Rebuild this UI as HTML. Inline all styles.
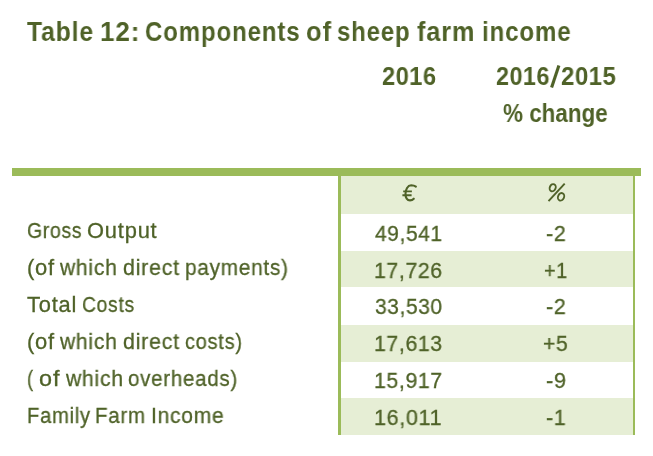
<!DOCTYPE html>
<html><head><meta charset="utf-8"><style>
html,body{margin:0;padding:0;background:#fff;width:653px;height:456px;overflow:hidden;}
.t{position:absolute;will-change:transform;font-family:"Liberation Sans",sans-serif;line-height:1;white-space:pre;color:#4F6228;transform-origin:0 0;}
.n{-webkit-text-stroke:0.3px #4F6228;}
.b{font-weight:bold;}
.i{font-style:italic;}
.r{position:absolute;}
</style></head><body>
<div class="r" style="left:12px;top:168px;width:629px;height:8px;background:#9BBB59"></div>
<div class="r" style="left:341px;top:176px;width:292px;height:38px;background:#E6EED5"></div>
<div class="r" style="left:341px;top:251px;width:292px;height:36px;background:#E6EED5"></div>
<div class="r" style="left:341px;top:325px;width:292px;height:37px;background:#E6EED5"></div>
<div class="r" style="left:341px;top:398px;width:292px;height:37px;background:#E6EED5"></div>
<div class="r" style="left:338px;top:176px;width:3px;height:259px;background:#9BBB59"></div>
<div class="r" style="left:633px;top:176px;width:2px;height:259px;background:#9BBB59"></div>
<div class="t b" style="left:27.20px;top:19.00px;font-size:27.00px;letter-spacing:1.0px;transform:scaleX(0.9111)">Table</div>
<div class="t b" style="left:100.48px;top:19.00px;font-size:27.00px;letter-spacing:1.0px;transform:scaleX(0.9611)">12:</div>
<div class="t b" style="left:145.01px;top:19.00px;font-size:27.00px;letter-spacing:1.0px;transform:scaleX(0.8884)">Components</div>
<div class="t b" style="left:306.05px;top:19.00px;font-size:27.00px;letter-spacing:1.0px;transform:scaleX(0.9462)">of</div>
<div class="t b" style="left:337.42px;top:19.00px;font-size:27.00px;letter-spacing:1.0px;transform:scaleX(0.8850)">sheep</div>
<div class="t b" style="left:417.00px;top:19.00px;font-size:27.00px;letter-spacing:1.0px;transform:scaleX(0.9333)">farm</div>
<div class="t b" style="left:481.52px;top:19.00px;font-size:27.00px;letter-spacing:1.0px;transform:scaleX(0.8907)">income</div>
<div class="t b" style="left:382.05px;top:64.00px;font-size:25.00px;letter-spacing:0.5px;transform:scaleX(0.9455)">2016</div>
<div class="t b" style="left:496.07px;top:64.00px;font-size:25.00px;letter-spacing:0.5px;transform:scaleX(0.9345)">2016</div>
<div class="t b" style="left:560.74px;top:64.00px;font-size:25.00px;letter-spacing:0.5px;transform:scaleX(0.9600)">2015</div>
<div class="t b" style="left:503.40px;top:101.00px;font-size:25.00px;transform:scaleX(0.8974)">% change</div>
<div class="t n" style="left:26.90px;top:221.00px;font-size:21.50px;letter-spacing:0.8px;transform:scaleX(0.9017)">Gross</div>
<div class="t n" style="left:86.88px;top:221.00px;font-size:21.50px;letter-spacing:0.8px;transform:scaleX(1.0164)">Output</div>
<div class="t n" style="left:27.08px;top:258.00px;font-size:21.50px;letter-spacing:0.8px;transform:scaleX(1.0192)">(of</div>
<div class="t n" style="left:60.40px;top:258.00px;font-size:21.50px;letter-spacing:0.8px;transform:scaleX(0.9772)">which</div>
<div class="t n" style="left:123.11px;top:258.00px;font-size:21.50px;letter-spacing:0.8px;transform:scaleX(0.9927)">direct</div>
<div class="t n" style="left:185.23px;top:258.00px;font-size:21.50px;letter-spacing:0.8px;transform:scaleX(0.9654)">payments)</div>
<div class="t n" style="left:27.30px;top:295.00px;font-size:21.50px;letter-spacing:0.8px;transform:scaleX(1.0170)">Total</div>
<div class="t n" style="left:82.10px;top:295.00px;font-size:21.50px;letter-spacing:0.8px;transform:scaleX(0.8964)">Costs</div>
<div class="t n" style="left:27.08px;top:332.00px;font-size:21.50px;letter-spacing:0.8px;transform:scaleX(1.0192)">(of</div>
<div class="t n" style="left:60.40px;top:332.00px;font-size:21.50px;letter-spacing:0.8px;transform:scaleX(0.9772)">which</div>
<div class="t n" style="left:123.11px;top:332.00px;font-size:21.50px;letter-spacing:0.8px;transform:scaleX(0.9927)">direct</div>
<div class="t n" style="left:184.57px;top:332.00px;font-size:21.50px;letter-spacing:0.8px;transform:scaleX(0.9288)">costs)</div>
<div class="t n" style="left:27.15px;top:369.00px;font-size:21.50px;letter-spacing:0.8px;transform:scaleX(0.8500)">(</div>
<div class="t n" style="left:39.41px;top:369.00px;font-size:21.50px;letter-spacing:0.8px;transform:scaleX(1.0889)">of</div>
<div class="t n" style="left:66.10px;top:369.00px;font-size:21.50px;letter-spacing:0.8px;transform:scaleX(0.9807)">which</div>
<div class="t n" style="left:128.15px;top:369.00px;font-size:21.50px;letter-spacing:0.8px;transform:scaleX(0.9527)">overheads)</div>
<div class="t n" style="left:26.83px;top:406.00px;font-size:21.50px;letter-spacing:0.8px;transform:scaleX(0.9369)">Family</div>
<div class="t n" style="left:95.40px;top:406.00px;font-size:21.50px;letter-spacing:0.8px;transform:scaleX(0.9490)">Farm</div>
<div class="t n" style="left:151.15px;top:406.00px;font-size:21.50px;letter-spacing:0.8px;transform:scaleX(0.9761)">Income</div>
<div class="t n" style="left:375.35px;top:223.00px;font-size:22.00px;letter-spacing:0.6px;transform:scaleX(0.9544)">49,541</div>
<div class="t n" style="left:374.36px;top:260.00px;font-size:22.00px;letter-spacing:0.6px;transform:scaleX(0.9687)">17,726</div>
<div class="t n" style="left:375.35px;top:296.00px;font-size:22.00px;letter-spacing:0.6px;transform:scaleX(0.9544)">33,530</div>
<div class="t n" style="left:374.36px;top:333.00px;font-size:22.00px;letter-spacing:0.6px;transform:scaleX(0.9687)">17,613</div>
<div class="t n" style="left:374.36px;top:370.00px;font-size:22.00px;letter-spacing:0.6px;transform:scaleX(0.9687)">15,917</div>
<div class="t n" style="left:374.33px;top:407.00px;font-size:22.00px;letter-spacing:0.6px;transform:scaleX(0.9833)">16,011</div>
<div class="t n" style="left:545.92px;top:223.00px;font-size:22.00px;letter-spacing:0.6px;transform:scaleX(0.9778)">-2</div>
<div class="t n" style="left:544.10px;top:260.00px;font-size:22.00px;letter-spacing:0.6px;transform:scaleX(0.9000)">+1</div>
<div class="t n" style="left:545.92px;top:296.00px;font-size:22.00px;letter-spacing:0.6px;transform:scaleX(0.9778)">-2</div>
<div class="t n" style="left:542.84px;top:333.00px;font-size:22.00px;letter-spacing:0.6px;transform:scaleX(0.9625)">+5</div>
<div class="t n" style="left:546.01px;top:370.00px;font-size:22.00px;letter-spacing:0.6px;transform:scaleX(0.9889)">-9</div>
<div class="t n" style="left:546.03px;top:407.00px;font-size:22.00px;letter-spacing:0.6px;transform:scaleX(0.9722)">-1</div>
<svg class="r" style="left:0;top:0" width="653" height="456"><line x1="551.6" y1="87.6" x2="558.9" y2="65.4" stroke="#4F6228" stroke-width="3.1"/><g fill="none" stroke="#4F6228"><path d="M 415.9 186.6 C 414.6 185.6, 412.8 185.2, 411.2 185.2 C 407.6 185.3, 405.6 189.5, 405.5 193.8 C 405.4 197.8, 407.2 200.4, 410.0 200.4 C 411.5 200.4, 412.8 199.8, 413.8 198.7" stroke-width="2.1" stroke-linecap="round"/><path d="M403.2 191.4H411.9M402.4 195.3H411.6" stroke-width="1.9"/><ellipse cx="552.7" cy="187.7" rx="2.9" ry="3.7" transform="rotate(25 552.7 187.7)" stroke-width="1.9"/><ellipse cx="561.05" cy="196.8" rx="3.0" ry="3.85" transform="rotate(25 561.05 196.8)" stroke-width="1.9"/><line x1="548.5" y1="201.1" x2="564.7" y2="183.6" stroke-width="1.9"/></g></svg>
</body></html>
